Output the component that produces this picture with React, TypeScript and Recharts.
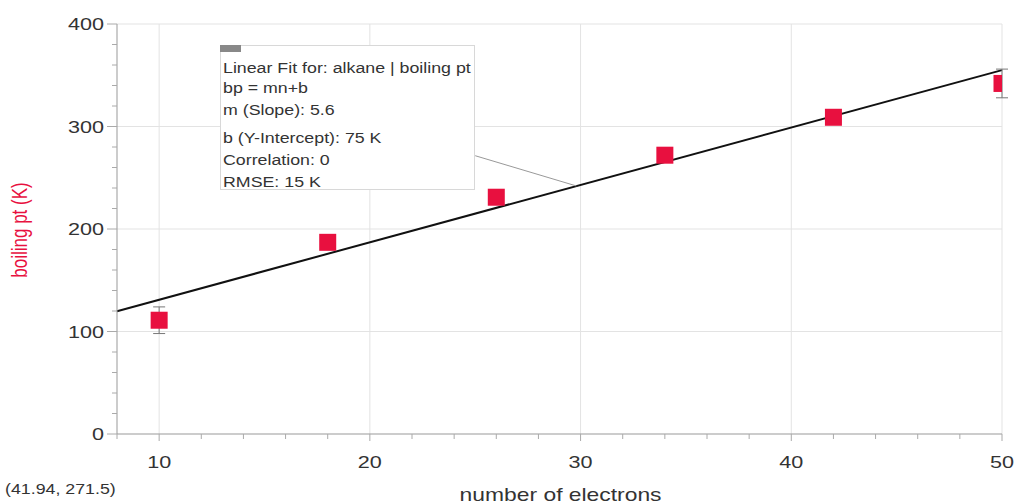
import React from "react";
import {
  ComposedChart,
  Scatter,
  ErrorBar,
  XAxis,
  YAxis,
  ReferenceLine,
} from "recharts";

// measured data: alkanes
const electrons = [10, 18, 26, 34, 42, 50];
const boilingPt = [111, 187, 231, 272, 309, 342];
const errors = [13, 0, 0, 0, 0, 14];

const xTicks = [10, 20, 30, 40, 50];
const yTicks = [0, 100, 200, 300, 400];
const xMinorTicks = [8, 10, 12, 14, 16, 18, 20, 22, 24, 26, 28, 30, 32, 34, 36, 38, 40, 42, 44, 46, 48, 50];
const yMinorTicks = [0, 20, 40, 60, 80, 100, 120, 140, 160, 180, 200, 220, 240, 260, 280, 300, 320, 340, 360, 380, 400];

// linear fit bp = m*n + b
const slope = 5.6;
const intercept = 75;
const fitRange = [8, 50];
const calloutFrom = { x: 25, y: 271.5 };
const calloutTo = { x: 29.8, y: 242 };

const fitLines = [
  "Linear Fit for: alkane | boiling pt",
  "bp = mn+b",
  "m (Slope): 5.6",
  "b (Y-Intercept): 75 K",
  "Correlation: 0",
  "RMSE: 15 K",
];

const data = electrons.map((n, i) => ({ n, bp: boilingPt[i], err: errors[i] }));

const FONT = "'Liberation Sans', Arial, sans-serif";
const SX = 1.27; // the source screenshot is stretched sideways
const PLOT_RIGHT = 1016 - 14;

const Square = (props: any) => {
  const { cx, cy } = props;
  const s = 17;
  const left = cx - s / 2;
  const w = Math.min(s, PLOT_RIGHT + 1 - left);
  return <rect x={left} y={cy - s / 2} width={w} height={s} fill="#e8103f" />;
};

const XTick = (props: any) => {
  const { x, y, payload } = props;
  const major = xTicks.includes(payload.value);
  return (
    <g>
      <line x1={x} x2={x} y1={y} y2={y + (major ? 7 : 5)} stroke="#aaa" />
      {major && (
        <g transform={`translate(${x},${y + 34}) scale(${SX},1)`}>
          <text x={0} y={0} textAnchor="middle" fontSize={17} fill="#333" fontFamily={FONT}>
            {payload.value}
          </text>
        </g>
      )}
      {payload.value === 30 && (
        <g transform={`translate(${x - 20},${y + 67}) scale(${SX},1)`}>
          <text x={0} y={0} textAnchor="middle" fontSize={18} fill="#333" fontFamily={FONT}>
            number of electrons
          </text>
        </g>
      )}
    </g>
  );
};

const YTick = (props: any) => {
  const { x, y, payload } = props;
  const major = yTicks.includes(payload.value);
  return (
    <g>
      <line x1={x - (major ? 10 : 5)} x2={x} y1={y} y2={y} stroke="#aaa" />
      {major && (
        <g transform={`translate(${x - 13},${y + 6}) scale(${SX},1)`}>
          <text x={0} y={0} textAnchor="end" fontSize={17} fill="#333" fontFamily={FONT}>
            {payload.value}
          </text>
        </g>
      )}
      {payload.value === 200 && (
        <g transform={`translate(${x - 90},${y + 1}) scale(${SX},1) rotate(-90)`}>
          <text x={0} y={0} textAnchor="middle" fontSize={17} fill="#e8103f" fontFamily={FONT}>
            boiling pt (K)
          </text>
        </g>
      )}
    </g>
  );
};

export default function App() {
  return (
    <div style={{ position: "absolute", left: 0, top: 0, width: 1016, height: 504, background: "#fff", fontFamily: FONT }}>
      <ComposedChart
        width={1016}
        height={504}
        data={data}
        margin={{ top: 24, right: 14, bottom: 0, left: 0 }}
      >
        <XAxis
          dataKey="n"
          type="number"
          domain={[8, 50]}
          ticks={xMinorTicks}
          interval={0}
          allowDataOverflow
          height={70}
          tickSize={0}
          tickMargin={0}
          tickLine={false}
          tick={<XTick />}
          axisLine={{ stroke: "#999" }}
        />
        <YAxis
          dataKey="bp"
          type="number"
          domain={[0, 400]}
          ticks={yMinorTicks}
          interval={0}
          width={117}
          tickSize={0}
          tickMargin={0}
          tickLine={false}
          tick={<YTick />}
          axisLine={{ stroke: "#999" }}
        />
        {yTicks.slice(1).map((v) => (
          <ReferenceLine key={"h" + v} y={v} stroke="#e3e3e3" strokeWidth={1} />
        ))}
        {xTicks.map((v) => (
          <ReferenceLine key={"v" + v} x={v} stroke="#e3e3e3" strokeWidth={1} />
        ))}
        <ReferenceLine
          segment={[
            { x: fitRange[0], y: slope * fitRange[0] + intercept },
            { x: fitRange[1], y: slope * fitRange[1] + intercept },
          ]}
          stroke="#111"
          strokeWidth={2}
          ifOverflow="visible"
        />
        <ReferenceLine
          segment={[calloutFrom, calloutTo]}
          stroke="#999"
          strokeWidth={1}
          ifOverflow="visible"
        />
        <Scatter dataKey="bp" shape={<Square />} isAnimationActive={false}>
          <ErrorBar dataKey="err" direction="y" width={6} stroke="#777" strokeWidth={1} />
        </Scatter>
      </ComposedChart>

      <div
        style={{
          position: "absolute",
          left: 220,
          top: 45,
          width: 255,
          height: 145,
          background: "#fff",
          border: "1px solid #d8d8d8",
          boxSizing: "border-box",
          color: "#333",
          fontSize: 14,
        }}
      >
        <div style={{ position: "absolute", left: -1, top: -1, width: 21, height: 7, background: "#888" }} />
        {fitLines.map((t, i) => (
          <div
            key={t}
            style={{
              position: "absolute",
              left: 2,
              top: [14, 34, 56, 84, 106, 128][i],
              whiteSpace: "nowrap",
              lineHeight: "16px",
              transform: `scaleX(${SX})`,
              transformOrigin: "left center",
            }}
          >
            {t}
          </div>
        ))}
      </div>

      <div
        style={{
          position: "absolute",
          left: 5,
          top: 481,
          fontSize: 14,
          color: "#333",
          whiteSpace: "nowrap",
          transform: `scaleX(${SX})`,
          transformOrigin: "left center",
        }}
      >
        (41.94, 271.5)
      </div>
    </div>
  );
}
